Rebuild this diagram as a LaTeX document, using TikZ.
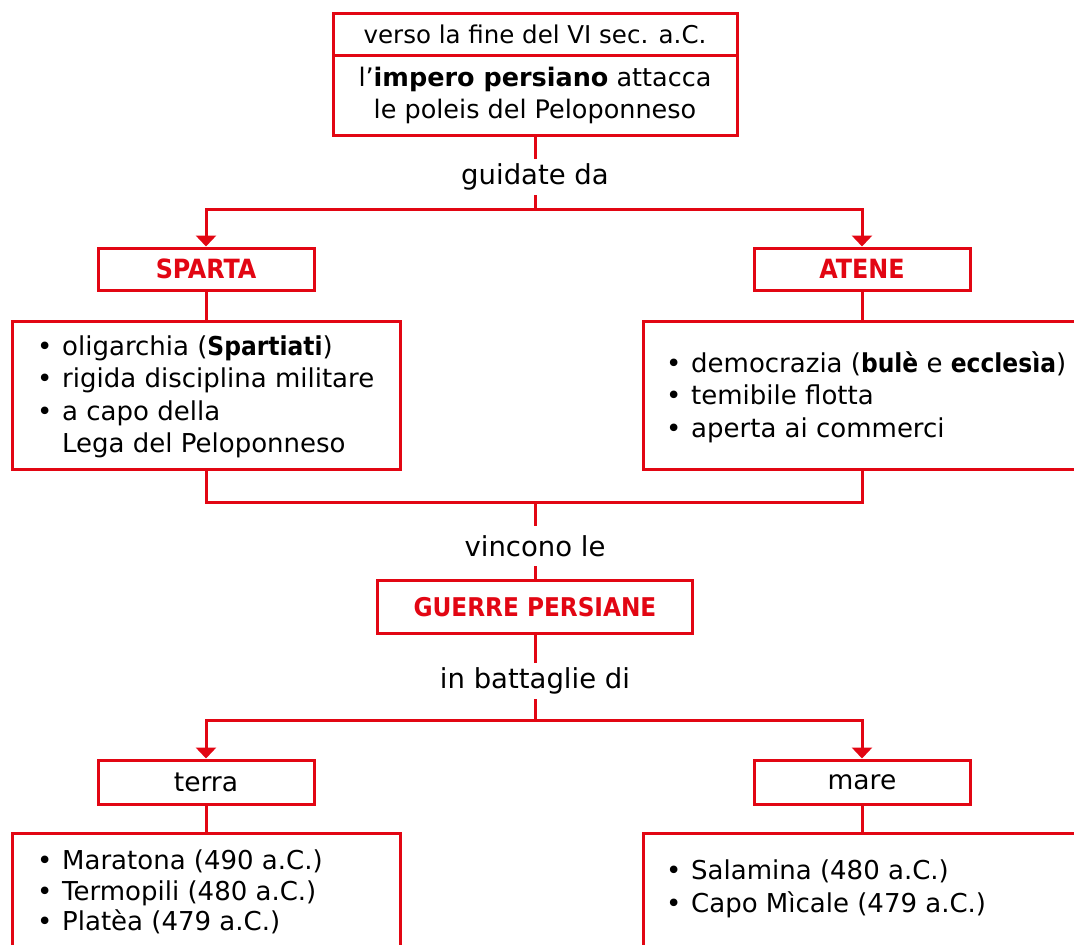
\documentclass[tikz,border=0pt]{standalone}
\usepackage{fontspec}
\setmainfont{DejaVu Sans}
\newfontfamily\dvc{DejaVu Sans Condensed}
\newcommand\bc{\dvc\bfseries}
\usetikzlibrary{arrows.meta}
\definecolor{ered}{RGB}{226,6,19}
\newcommand\bul{\makebox[25pt][l]{\textbullet}}
\tikzset{
  box/.style={draw=ered, line width=3pt, rectangle, inner sep=0pt},
  title/.style={box, text=ered, font=\fontsize{26.5}{28}\selectfont\bc},
  plain/.style={box, font=\fontsize{26.5}{30}\selectfont},
  lst/.style={inner sep=0pt, align=left, anchor=west, font=\fontsize{26}{32.5}\selectfont},
  lbl/.style={inner sep=0pt, minimum height=36pt, font=\fontsize{27.5}{30}\selectfont},
  con/.style={draw=ered, line width=3pt},
  arr/.style={con, -{Triangle[width=20pt,length=11pt]}}
}
\begin{document}
\begin{tikzpicture}[x=1pt,y=-1pt]
\useasboundingbox (0,0) rectangle (1074,945);
\clip (0,0) rectangle (1074,945);
% top box
\node[box, minimum width=404pt, minimum height=42pt, font=\fontsize{24.5}{26}\selectfont] (t1) at (535,34) {verso la fine del VI sec. a.C.};
\node[box, minimum width=404pt, minimum height=80pt, align=center, font=\fontsize{25.5}{32}\selectfont] (t2) at (535,95) {l’\textbf{impero persiano} attacca\\le poleis del Peloponneso};
\node[lbl] (gd) at (535,177) {guidate da};
\coordinate (j1) at (535,209);
% level 2
\node[title, minimum width=216pt, minimum height=42pt] (sparta) at (206,269) {SPARTA};
\node[title, minimum width=216pt, minimum height=42pt] (atene) at (862,269) {ATENE};
\node[box, minimum width=388pt, minimum height=148pt] (sl) at (206,395) {};
\node[box, minimum width=438pt, minimum height=148pt] (al) at (862,395) {};
\node[lst] (slt) at (37,397) {\bul oligarchia ({\bc Spartiati})\\\bul rigida disciplina militare\\\bul a capo della\\\hspace*{25pt}Lega del Peloponneso};
\node[lst] (alt) at (666,397) {\bul democrazia ({\bc bulè} e {\bc ecclesìa})\\\bul temibile flotta\\\bul aperta ai commerci};
\coordinate (j2) at (535,502);
\node[lbl, minimum height=40pt] (vl) at (535,546) {vincono le};
\node[title, minimum width=315pt, minimum height=53pt, font=\fontsize{25.8}{28}\selectfont\bc] (gp) at (535,607) {GUERRE PERSIANE};
\node[lbl] (ib) at (535,681) {in battaglie di};
\coordinate (j3) at (535,720);
\node[plain, minimum width=216pt, minimum height=44pt] (terra) at (206,782) {terra};
\node[plain, minimum width=216pt, minimum height=44pt] (mare) at (862,782) {mare};
\node[box, minimum width=388pt, minimum height=150pt] (tl) at (206,908) {};
\node[box, minimum width=438pt, minimum height=150pt] (ml) at (862,908) {};
\node[lst, font=\fontsize{26}{30.5}\selectfont] (tlt) at (37,892) {\bul Maratona (490 a.C.)\\\bul Termopili (480 a.C.)\\\bul Platèa (479 a.C.)};
\node[lst] (mlt) at (666,889) {\bul Salamina (480 a.C.)\\\bul Capo Mìcale (479 a.C.)};
% connectors
\draw[con] (t2.south) -- (gd.north);
\draw[con] (gd.south) -- (j1);
\draw[arr] (j1) -| (sparta.north);
\draw[arr] (j1) -| (atene.north);
\draw[con] (sparta.south) -- (sl.north);
\draw[con] (atene.south) -- (al.north);
\draw[con] (sl.south) |- (j2) -| (al.south);
\draw[con] (j2) -- (vl.north);
\draw[con] (vl.south) -- (gp.north);
\draw[con] (gp.south) -- (ib.north);
\draw[con] (ib.south) -- (j3);
\draw[arr] (j3) -| (terra.north);
\draw[arr] (j3) -| (mare.north);
\draw[con] (terra.south) -- (tl.north);
\draw[con] (mare.south) -- (ml.north);
\end{tikzpicture}
\end{document}
